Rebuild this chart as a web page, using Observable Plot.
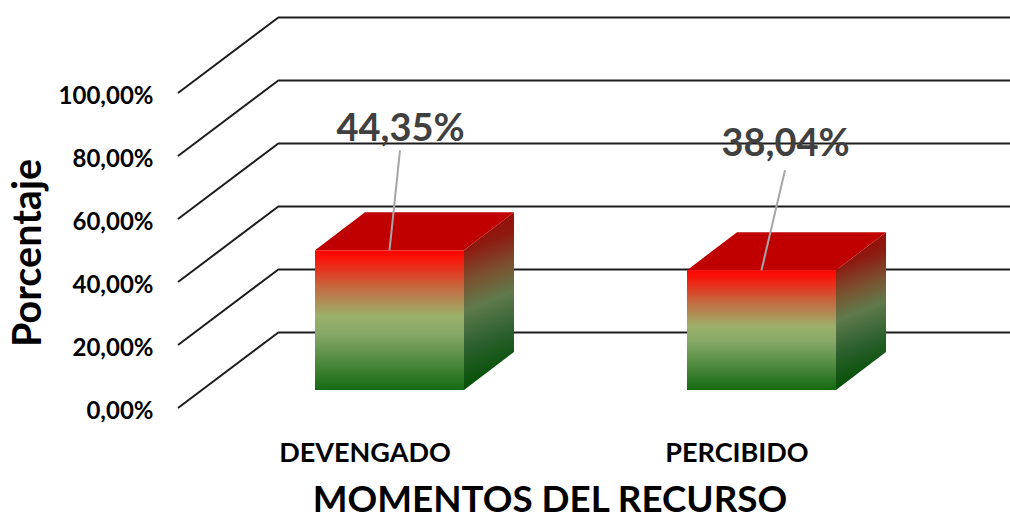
<!DOCTYPE html>
<html>
<head>
<meta charset="utf-8">
<script src="https://cdn.jsdelivr.net/npm/d3@7"></script>
<script src="https://cdn.jsdelivr.net/npm/@observablehq/plot@0.6"></script>
<style>
html,body{margin:0;padding:0;background:#fff;overflow:hidden}
svg{display:block}
</style>
</head>
<body>
<div id="chart"></div>
<script>
const categories = ["DEVENGADO", "PERCIBIDO"];
const percents = [44.35, 38.04];
const valueLabels = ["44,35%", "38,04%"];
const yTicks = [0, 20, 40, 60, 80, 100];
const xTitle = "MOMENTOS DEL RECURSO";
const yTitle = "Porcentaje";

const rows = categories.map((c, i) => ({category: c, value: percents[i], label: valueLabels[i]}));

const FONT = "Lato, 'Open Sans', sans-serif";
const wall = {dx: 101, dy: -76};       // depth of the whole floor
const front = {dx: 0, dy: -18};        // bar faces sit inside the floor
const depth = {dx: 50, dy: -38};       // depth of each bar
const leader = [{dx: 10.5, dy: -100}, {dx: 23.5, dy: -100}];
const labelOffset = [{dx: 10.5, dy: -140}, {dx: 23.5, dy: -145}];
const NS = "http://www.w3.org/2000/svg";
const el = (name, attrs, parent) => {
  const n = document.createElementNS(NS, name);
  for (const k in attrs) n.setAttribute(k, attrs[k]);
  if (parent) parent.appendChild(n);
  return n;
};

function diagonals(index, scales) {
  const g = el("g", {stroke: "#1c1c1c", "stroke-width": 2, fill: "none"});
  const x0 = 178;
  for (const t of yTicks) {
    const y = scales.y(t);
    el("path", {d: `M${x0},${y}L${x0 + wall.dx},${y + wall.dy}`}, g);
  }
  return g;
}

function boxes(index, scales) {
  const g = el("g", {});
  const defs = el("defs", {}, g);
  const bw = typeof scales.x.bandwidth === "function" ? scales.x.bandwidth() : scales.x.bandwidth;
  const frontGrad = el("linearGradient", {id: "frontGrad", x1: 0, y1: 0, x2: 0, y2: 1}, defs);
  [[0, "#ff0500"], [0.05, "#fb1108"], [0.25, "#c8643c"], [0.47, "#9bb16b"], [0.6, "#86a867"], [1, "#156a12"]]
    .forEach(([o, c]) => el("stop", {offset: o, "stop-color": c}, frontGrad));
  rows.forEach((r, i) => {
    const xl = scales.x(r.category);
    const xr = xl + bw;
    const yt = scales.y(r.value) + front.dy;
    const yb = scales.y(0) + front.dy;
    const h = yb - yt;
    const sx = 0.38; // extra tilt of the colour bands
    const nl = Math.hypot(sx, 1);
    const L = (h + sx * depth.dx) / nl;
    const cx = depth.dx / 2, cy = h / 2;
    const id = "sideGrad" + i;
    const sg = el("linearGradient", {
      id, gradientUnits: "userSpaceOnUse",
      x1: cx + (sx / nl) * L / 2, y1: cy - (1 / nl) * L / 2,
      x2: cx - (sx / nl) * L / 2, y2: cy + (1 / nl) * L / 2
    }, defs);
    [[0, "#960f08"], [0.12, "#8e1a10"], [0.32, "#7a5230"], [0.5, "#5f7a4c"], [0.75, "#2a5f2c"], [1, "#045005"]]
      .forEach(([o, c]) => el("stop", {offset: o, "stop-color": c}, sg));
    el("rect", {
      x: 0, y: 0, width: depth.dx, height: h, fill: `url(#${id})`,
      transform: `matrix(1,${depth.dy / depth.dx},0,1,${xr},${yt})`
    }, g);
    el("path", {
      d: `M${xl},${yt}L${xl + depth.dx},${yt + depth.dy}L${xr + depth.dx},${yt + depth.dy}L${xr},${yt}Z`,
      fill: "#c00000"
    }, g);
    el("rect", {x: xl, y: yt, width: bw, height: h, fill: "url(#frontGrad)"}, g);
    const mid = xl + bw / 2;
    el("path", {
      d: `M${mid},${yt}L${mid + leader[i].dx},${yt + leader[i].dy}`,
      stroke: "#a6a6a6", "stroke-width": 2, fill: "none"
    }, g);
  });
  return g;
}

const plot = Plot.plot({
  width: 1010,
  height: 519,
  marginLeft: 178,
  marginRight: 0,
  marginTop: 93,
  marginBottom: 111,
  style: {background: "#fff", fontFamily: FONT, overflow: "visible"},
  x: {type: "band", domain: categories, range: [203.4, 947.4], paddingInner: 0.6, paddingOuter: 0.3},
  y: {domain: [0, 100]},
  marks: [
    Plot.ruleY(yTicks, {y: d => d, dy: wall.dy, insetLeft: wall.dx, stroke: "#1c1c1c", strokeWidth: 2}),
    diagonals,
    Plot.barY(rows, {x: "category", y: "value", fillOpacity: 0}),
    boxes,
    Plot.axisY({
      ticks: yTicks, tickSize: 0, tickPadding: 25, label: null,
      tickFormat: d => d3.format(".2f")(d).replace(".", ",") + "%",
      fontSize: 24, fontWeight: 700, fill: "#000", dy: 3
    }),
    Plot.axisX({
      tickSize: 0, tickPadding: 34, label: null, dx: -25,
      fontSize: 27, fontWeight: 700, fill: "#000"
    }),
    Plot.text([rows[0]], {
      x: "category", y: "value", text: "label",
      dx: labelOffset[0].dx, dy: labelOffset[0].dy,
      fontSize: 38, fontWeight: 700, fill: "#404040"
    }),
    Plot.text([rows[1]], {
      x: "category", y: "value", text: "label",
      dx: labelOffset[1].dx, dy: labelOffset[1].dy,
      fontSize: 38, fontWeight: 700, fill: "#404040"
    }),
    Plot.text([yTitle], {
      frameAnchor: "left", dx: -150, dy: 2, rotate: -90,
      fontSize: 39.5, fontWeight: 700, fill: "#000", textAnchor: "middle"
    }),
    Plot.text([xTitle], {
      frameAnchor: "bottom", dy: 103, dx: -44.5,
      fontSize: 36.8, fontWeight: 700, fill: "#000"
    })
  ]
});
document.getElementById("chart").appendChild(plot);
</script>
</body>
</html>
